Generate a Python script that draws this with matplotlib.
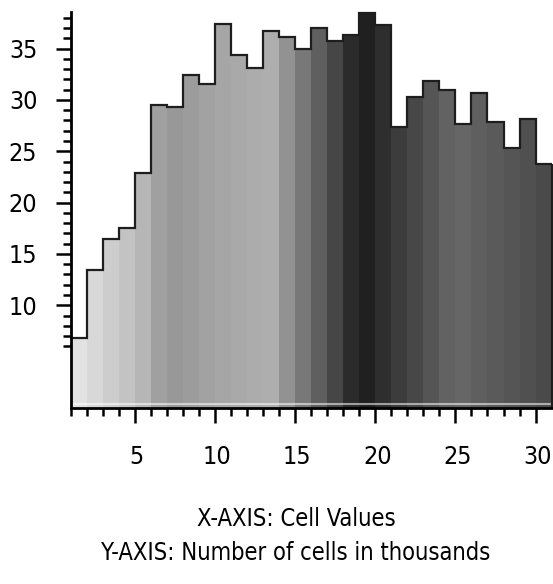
import matplotlib
matplotlib.use('Agg')
import matplotlib.pyplot as plt
from matplotlib.transforms import ScaledTranslation

plt.rcParams['font.family'] = ['DejaVu Sans']
plt.rcParams['font.stretch'] = 'condensed'

# Data
cell_values = list(range(1, 31))
counts = [6.8, 13.4, 16.5, 17.5, 22.9, 29.5, 29.3, 32.4, 31.5, 37.4,
          34.4, 33.1, 36.7, 36.1, 35.0, 37.0, 35.7, 36.3, 38.5, 37.3,
          27.4, 30.3, 31.8, 31.0, 27.7, 30.7, 27.8, 25.3, 28.1, 23.8]
bar_grays = ['#e2e2e2', '#d8d8d8', '#cdcdcd', '#c3c3c3', '#b6b6b6', '#a0a0a0',
             '#989898', '#9c9c9c', '#a2a2a2', '#a6a6a6', '#a9a9a9', '#acacac',
             '#aeaeae', '#929292', '#787878', '#5f5f5f', '#464646', '#2b2b2b',
             '#202020', '#2e2e2e', '#3c3c3c', '#474747', '#555555', '#626262',
             '#666666', '#5f5f5f', '#5a5a5a', '#555555', '#505050', '#4a4a4a']
x_major = [5, 10, 15, 20, 25, 30]
x_minor = [v for v in range(1, 31) if v not in x_major]
y_major = [10, 15, 20, 25, 30, 35]
y_minor = [v for v in range(6, 39) if v not in y_major]
x_title = 'X-AXIS: Cell Values'
y_title = 'Y-AXIS: Number of cells in thousands'

W, H = 553, 584
fig = plt.figure(figsize=(W / 100, H / 100), dpi=100)
left_px, bottom_px, top_px = 70.7, 408, 12
ax = fig.add_axes([left_px / W, (H - bottom_px) / H, (W - left_px) / W, (bottom_px - top_px) / H])

edges = list(range(1, 32))
ax.bar(cell_values, counts, width=1, align='edge', color=bar_grays, linewidth=0)
ax.stairs(counts, edges=edges, baseline=None, color='#1e1e1e', lw=1.6, clip_on=False, zorder=3)
ax.vlines(edges[-1], 0, counts[-1], color='#1e1e1e', lw=1.6, zorder=3, clip_on=False)
ax.axhline(0.35, color='white', alpha=0.55, lw=1.5, zorder=2)

ax.set_xlim(1, 1 + (W - left_px) / 16.03)
ax.set_ylim(0, (bottom_px - top_px) / 10.27)

for s in ['top', 'right']:
    ax.spines[s].set_visible(False)
for s in ['left', 'bottom']:
    ax.spines[s].set_linewidth(2)
    ax.spines[s].set_color('black')
    ax.spines[s].set_zorder(4)

ax.set_xticks(x_major)
ax.set_xticks(x_minor, minor=True)
ax.set_yticks(y_major)
ax.set_yticks(y_minor, minor=True)
ax.tick_params(axis='both', which='major', length=11, width=1.8, direction='out', labelsize=18)
ax.tick_params(axis='both', which='minor', length=6, width=1.8, direction='out')
ax.tick_params(axis='y', which='major', pad=13)
ax.tick_params(axis='x', which='major', pad=16)

offset = ScaledTranslation(2 / 100, 0, fig.dpi_scale_trans)
for lab in ax.get_xticklabels():
    lab.set_transform(lab.get_transform() + offset)

fig.text(296 / W, 1 - 519 / H, x_title, ha='center', va='center', fontsize=17)
fig.text(296 / W, 1 - 553 / H, y_title, ha='center', va='center', fontsize=17)

fig.savefig('out.png', dpi=100)
